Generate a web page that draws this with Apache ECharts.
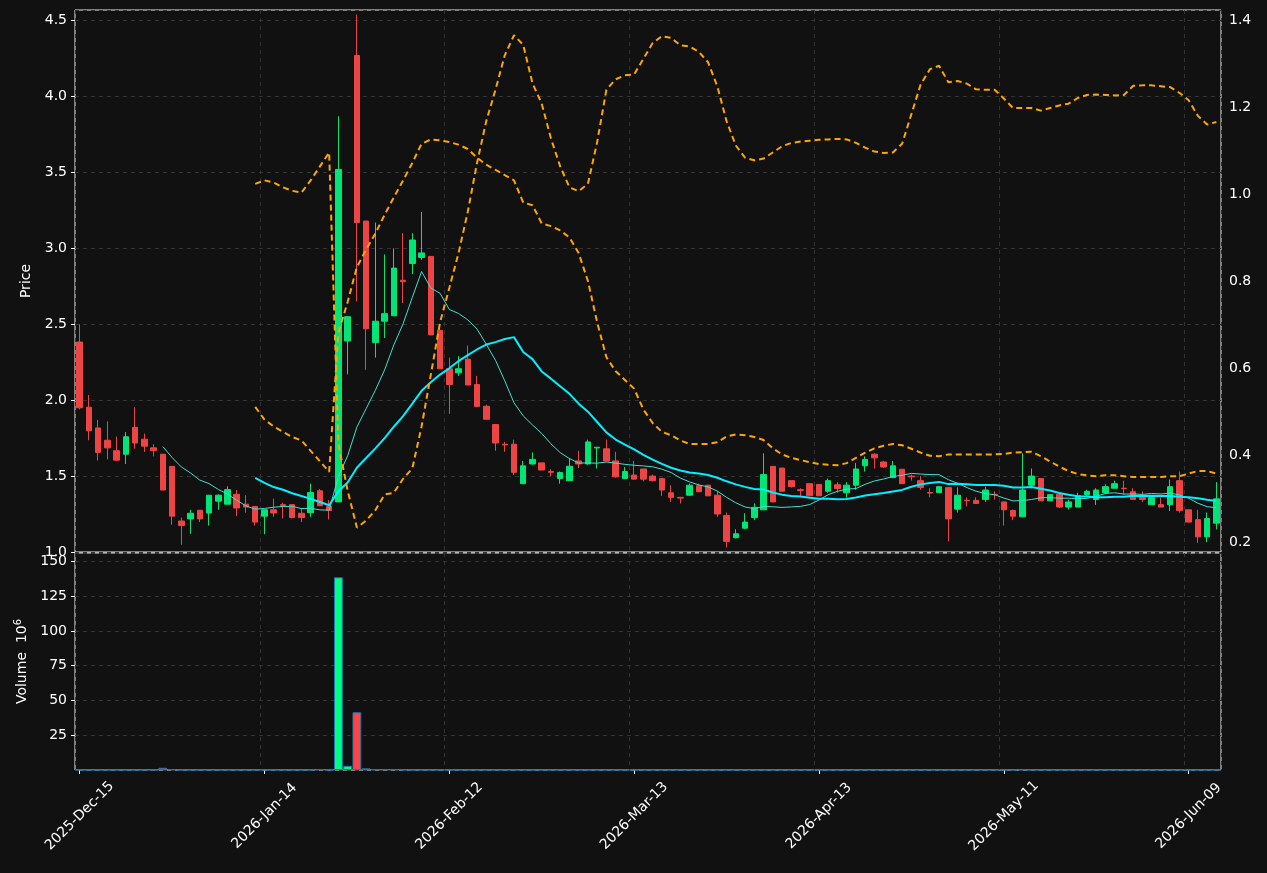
<!DOCTYPE html>
<html>
<head>
<meta charset="utf-8">
<script src="https://cdn.jsdelivr.net/npm/echarts@6/dist/echarts.min.js"></script>
<style>
html, body { margin: 0; padding: 0; background: #111111; }
#main { width: 1267px; height: 873px; }
</style>
</head>
<body>
<div id="main"></div>
<script>
// trading days from 2025-12-15, weekends and holidays skipped
var holidays = ['2025-12-25', '2026-01-01', '2026-01-19', '2026-02-16', '2026-04-03', '2026-05-25'];
var monthNames = ['Jan','Feb','Mar','Apr','May','Jun','Jul','Aug','Sep','Oct','Nov','Dec'];
var dayCount = 124;

var openList = [2.383,1.954,1.817,1.736,1.667,1.644,1.821,1.743,1.686,1.644,
	1.564,1.204,1.218,1.275,1.257,1.335,1.315,1.38,1.315,1.3,
	1.236,1.278,1.312,1.312,1.255,1.259,1.403,1.3,1.33,2.39,
	4.27,3.18,2.38,2.52,2.556,2.79,2.90,2.94,2.947,2.46,
	2.207,2.18,2.27,2.103,1.96,1.84,1.71,1.71,1.45,1.58,
	1.587,1.53,1.484,1.47,1.6,1.58,1.685,1.68,1.6,1.484,
	1.507,1.547,1.5,1.484,1.39,1.36,1.374,1.436,1.44,1.374,
	1.24,1.094,1.157,1.227,1.278,1.564,1.553,1.47,1.41,1.45,
	1.445,1.4,1.443,1.39,1.44,1.568,1.644,1.593,1.49,1.545,
	1.5,1.47,1.392,1.392,1.424,1.282,1.34,1.34,1.346,1.38,
	1.33,1.273,1.232,1.44,1.484,1.337,1.38,1.296,1.296,1.378,
	1.346,1.392,1.42,1.42,1.397,1.37,1.312,1.312,1.312,1.47,
	1.278,1.213,1.1,1.19];
var closeList = [1.95,1.798,1.656,1.686,1.605,1.759,1.718,1.697,1.667,1.408,
	1.236,1.174,1.255,1.218,1.374,1.374,1.411,1.29,1.296,1.197,
	1.278,1.257,1.305,1.227,1.227,1.392,1.305,1.273,3.52,2.55,
	3.17,2.47,2.52,2.57,2.87,2.78,3.055,2.97,2.43,2.207,
	2.103,2.207,2.1,1.959,1.874,1.718,1.705,1.525,1.568,1.61,
	1.54,1.525,1.523,1.565,1.58,1.725,1.69,1.6,1.495,1.53,
	1.48,1.48,1.47,1.408,1.36,1.355,1.44,1.397,1.37,1.25,
	1.07,1.12,1.197,1.294,1.51,1.33,1.4,1.43,1.405,1.37,
	1.37,1.47,1.418,1.44,1.547,1.61,1.62,1.56,1.568,1.45,
	1.495,1.425,1.388,1.43,1.218,1.374,1.337,1.32,1.408,1.378,
	1.278,1.236,1.408,1.5,1.337,1.378,1.296,1.33,1.37,1.4,
	1.408,1.43,1.45,1.418,1.346,1.346,1.358,1.296,1.43,1.273,
	1.197,1.1,1.22,1.35];
var lowList = [1.94,1.736,1.603,1.61,1.6,1.58,1.68,1.66,1.63,1.408,
	1.18,1.048,1.12,1.197,1.174,1.278,1.33,1.236,1.259,1.174,
	1.117,1.232,1.221,1.221,1.197,1.232,1.305,1.214,1.33,2.17,
	2.65,2.2,2.28,2.41,2.556,2.64,2.83,2.925,2.43,2.207,
	1.91,2.16,2.1,1.959,1.874,1.667,1.66,1.507,1.45,1.575,
	1.54,1.5,1.45,1.47,1.553,1.575,1.55,1.6,1.49,1.48,
	1.48,1.465,1.465,1.37,1.33,1.32,1.37,1.397,1.37,1.232,
	1.03,1.09,1.15,1.21,1.278,1.33,1.4,1.425,1.37,1.37,
	1.37,1.39,1.39,1.36,1.41,1.53,1.55,1.555,1.49,1.45,
	1.47,1.41,1.36,1.39,1.07,1.26,1.3,1.32,1.33,1.345,
	1.174,1.21,1.232,1.42,1.337,1.337,1.29,1.28,1.296,1.37,
	1.31,1.38,1.42,1.378,1.346,1.33,1.312,1.296,1.27,1.26,
	1.197,1.06,1.065,1.15];
var highList = [2.5,2.034,1.87,1.86,1.76,1.79,1.954,1.78,1.71,1.644,
	1.564,1.227,1.278,1.275,1.374,1.38,1.433,1.408,1.374,1.3,
	1.278,1.351,1.325,1.312,1.29,1.45,1.415,1.342,3.87,2.55,
	4.54,3.18,3.17,2.96,3.0,3.1,3.1,3.24,2.947,2.5,
	2.28,2.29,2.36,2.16,1.97,1.84,1.725,1.74,1.6,1.656,
	1.587,1.545,1.53,1.62,1.667,1.74,1.69,1.74,1.66,1.56,
	1.6,1.547,1.51,1.484,1.44,1.36,1.45,1.45,1.44,1.40,
	1.26,1.15,1.255,1.32,1.65,1.564,1.553,1.47,1.42,1.45,
	1.445,1.484,1.46,1.46,1.587,1.63,1.65,1.6,1.6,1.545,
	1.51,1.50,1.42,1.435,1.424,1.426,1.36,1.36,1.43,1.40,
	1.33,1.28,1.65,1.55,1.484,1.378,1.38,1.345,1.39,1.41,
	1.42,1.445,1.47,1.47,1.42,1.40,1.358,1.36,1.477,1.53,
	1.278,1.278,1.26,1.46];
var volumeList = [0.1,0.1,0.1,0.1,0.1,0.1,0.1,0.1,0.1,1.6,
	0.6,0.1,0.1,0.1,0.1,0.1,0.1,0.1,0.1,0.1,
	0.1,0.1,0.1,0.1,0.1,0.1,0.6,0.1,138.5,3.0,
	41.5,1.2,0.6,0.5,0.5,0.3,0.1,0.1,0.1,0.1,
	0.1,0.1,0.1,0.1,0.1,0.1,0.1,0.1,0.1,0.1,
	0.1,0.1,0.1,0.1,0.1,0.1,0.1,0.1,0.1,0.1,
	0.1,0.1,0.1,0.1,0.1,0.1,0.1,0.1,0.1,0.1,
	0.1,0.1,0.1,0.1,0.1,0.1,0.1,0.1,0.1,0.1,
	0.1,0.1,0.1,0.1,0.1,0.1,0.1,0.1,0.1,0.1,
	0.1,0.1,0.1,0.1,0.1,0.1,0.1,0.1,0.1,0.1,
	0.1,0.1,0.4,0.1,0.1,0.1,0.1,0.1,0.1,0.1,
	0.1,0.1,0.1,0.1,0.1,0.1,0.1,0.1,0.1,0.1,
	0.1,0.1,0.1,0.1];

// dashed orange lines (right axis), from index 19 on
var bandAList = [1.024,1.032,1.027,1.016,1.008,1.004,1.032,1.064,1.096,0.427,
	0.32,0.235,0.251,0.275,0.311,0.315,0.347,0.371,0.467,0.586,
	0.706,0.785,0.865,0.96,1.072,1.168,1.24,1.319,1.365,1.343,
	1.255,1.208,1.128,1.064,1.016,1.007,1.024,1.12,1.24,1.264,
	1.273,1.275,1.311,1.347,1.363,1.359,1.342,1.339,1.327,1.303,
	1.248,1.168,1.112,1.084,1.078,1.082,1.096,1.11,1.118,1.121,
	1.123,1.125,1.126,1.127,1.126,1.118,1.107,1.098,1.095,1.096,
	1.116,1.184,1.252,1.287,1.295,1.257,1.26,1.254,1.241,1.24,
	1.24,1.22,1.198,1.198,1.198,1.192,1.198,1.204,1.208,1.221,
	1.228,1.229,1.228,1.227,1.228,1.249,1.25,1.25,1.248,1.246,
	1.233,1.216,1.18,1.16,1.166];
var bandBList = [0.512,0.483,0.467,0.455,0.443,0.435,0.411,0.387,0.363,0.682,
	0.753,0.833,0.873,0.91,0.953,0.993,1.032,1.072,1.116,1.126,
	1.124,1.12,1.114,1.104,1.084,1.068,1.056,1.044,1.032,0.981,
	0.975,0.933,0.927,0.917,0.901,0.865,0.801,0.706,0.626,0.594,
	0.574,0.554,0.506,0.475,0.455,0.447,0.435,0.427,0.427,0.427,
	0.431,0.444,0.449,0.447,0.443,0.436,0.417,0.403,0.395,0.39,
	0.385,0.381,0.379,0.378,0.383,0.395,0.407,0.417,0.423,0.427,
	0.424,0.416,0.407,0.40,0.399,0.403,0.403,0.403,0.403,0.403,
	0.403,0.404,0.407,0.408,0.409,0.399,0.387,0.375,0.365,0.358,
	0.355,0.353,0.355,0.355,0.353,0.351,0.351,0.351,0.351,0.353,
	0.353,0.359,0.365,0.365,0.359];
var bandStart = 19;

var dateList = [];
var d = new Date(Date.UTC(2025, 11, 15));
while (dateList.length < dayCount) {
	var iso = d.toISOString().slice(0, 10);
	var wd = d.getUTCDay();
	if (wd != 0 && wd != 6 && holidays.indexOf(iso) < 0) {
		var dd = d.getUTCDate();
		dateList.push(d.getUTCFullYear() + '-' + monthNames[d.getUTCMonth()] + '-' + (dd < 10 ? '0' + dd : dd));
	}
	d.setUTCDate(d.getUTCDate() + 1);
}

function movingAvg(n) {
	var out = [];
	for (var i = 0; i < closeList.length; i++) {
		if (i < n - 1) { out.push('-'); continue; }
		var s = 0;
		for (var j = i - n + 1; j <= i; j++) s += closeList[j];
		out.push(+(s / n).toFixed(4));
	}
	return out;
}

function padBand(list) {
	var out = [];
	for (var i = 0; i < bandStart; i++) out.push('-');
	return out.concat(list);
}

var upColor = '#00e676';
var downColor = '#ef4444';
var candleData = [];
var volData = [];
for (var i = 0; i < dayCount; i++) {
	candleData.push([openList[i], closeList[i], lowList[i], highList[i]]);
	var up = closeList[i] >= openList[i];
	volData.push({ value: volumeList[i], itemStyle: { color: up ? '#00ff7f' : '#ff4444' } });
}

var gridLine = { show: true, lineStyle: { color: '#333333', type: [4, 4], width: 1 } };
var every20 = function(idx) { return idx % 20 == 0; };
var txt = '#ffffff';

var chart = echarts.init(document.getElementById('main'));
chart.setOption({
	backgroundColor: '#111111',
	animation: false,
	grid: [
		{ left: 75, right: 46, top: 10, height: 542, show: true, borderColor: '#eeeeee', borderWidth: 1, backgroundColor: '#111111' },
		{ left: 75, right: 46, top: 553, height: 217, show: true, borderColor: '#eeeeee', borderWidth: 1, backgroundColor: '#111111' }
	],
	xAxis: [{
		type: 'category', gridIndex: 0, data: dateList, boundaryGap: true,
		axisLine: { show: false }, axisTick: { show: false }, axisLabel: { show: false },
		splitLine: { show: true, interval: every20, lineStyle: gridLine.lineStyle }
	}, {
		type: 'category', gridIndex: 1, data: dateList, boundaryGap: true,
		axisLine: { show: false },
		axisTick: { show: true, interval: every20, alignWithLabel: true, length: 4, lineStyle: { color: '#ffffff' } },
		axisLabel: { interval: every20, rotate: 45, align: 'center', verticalAlign: 'middle', margin: 46,
			color: txt, fontSize: 14, fontFamily: 'DejaVu Sans' },
		splitLine: { show: true, interval: every20, lineStyle: gridLine.lineStyle }
	}],
	yAxis: [{
		type: 'value', gridIndex: 0, min: 1.0, max: 4.57, interval: 0.5, position: 'left',
		name: 'Price', nameLocation: 'middle', nameGap: 42, nameRotate: 90,
		nameTextStyle: { color: txt, fontSize: 14, fontFamily: 'DejaVu Sans' },
		axisLine: { show: false }, axisTick: { show: true, length: 4, lineStyle: { color: '#ffffff' } },
		axisLabel: { color: txt, fontSize: 14, fontFamily: 'DejaVu Sans', showMaxLabel: false,
			formatter: function(v) { return v.toFixed(1); } },
		splitLine: gridLine
	}, {
		type: 'value', gridIndex: 0, min: 0.179, max: 1.423, position: 'right',
		axisLine: { show: false }, axisTick: { show: false },
		axisLabel: { color: txt, fontSize: 14, fontFamily: 'DejaVu Sans', showMinLabel: false, showMaxLabel: false,
			formatter: function(v) { return v.toFixed(1); } },
		splitLine: { show: false }
	}, {
		type: 'value', gridIndex: 1, min: 0, max: 156, interval: 25,
		name: '{a|Volume  10}{b|6}', nameLocation: 'middle', nameGap: 42, nameRotate: 90,
		nameTextStyle: { color: txt, rich: {
			a: { color: txt, fontSize: 14, fontFamily: 'DejaVu Sans' },
			b: { color: txt, fontSize: 10, fontFamily: 'DejaVu Sans', verticalAlign: 'top', padding: [0, 0, 8, 0] } } },
		axisLine: { show: false }, axisTick: { show: true, length: 4, lineStyle: { color: '#ffffff' } },
		axisLabel: { color: txt, fontSize: 14, fontFamily: 'DejaVu Sans', showMinLabel: false, showMaxLabel: false },
		splitLine: gridLine
	}],
	series: [{
		type: 'candlestick', xAxisIndex: 0, yAxisIndex: 0, data: candleData, barWidth: 6,
		itemStyle: { color: upColor, color0: downColor, borderColor: upColor, borderColor0: downColor, borderWidth: 1 }
	}, {
		type: 'line', xAxisIndex: 0, yAxisIndex: 0, data: movingAvg(10), symbol: 'none',
		lineStyle: { color: '#40e0d0', width: 1 }
	}, {
		type: 'line', xAxisIndex: 0, yAxisIndex: 0, data: movingAvg(20), symbol: 'none',
		lineStyle: { color: '#00f0ff', width: 2 }
	}, {
		type: 'line', xAxisIndex: 0, yAxisIndex: 1, data: padBand(bandAList), symbol: 'none',
		lineStyle: { color: '#ffa500', width: 2, type: [6, 4] }
	}, {
		type: 'line', xAxisIndex: 0, yAxisIndex: 1, data: padBand(bandBList), symbol: 'none',
		lineStyle: { color: '#ffa500', width: 2, type: [6, 4] }
	}, {
		type: 'bar', xAxisIndex: 1, yAxisIndex: 2, data: volData, barCategoryGap: '5%',
		itemStyle: { borderColor: '#1f77b4', borderWidth: 1 }
	}]
});
</script>
</body>
</html>
